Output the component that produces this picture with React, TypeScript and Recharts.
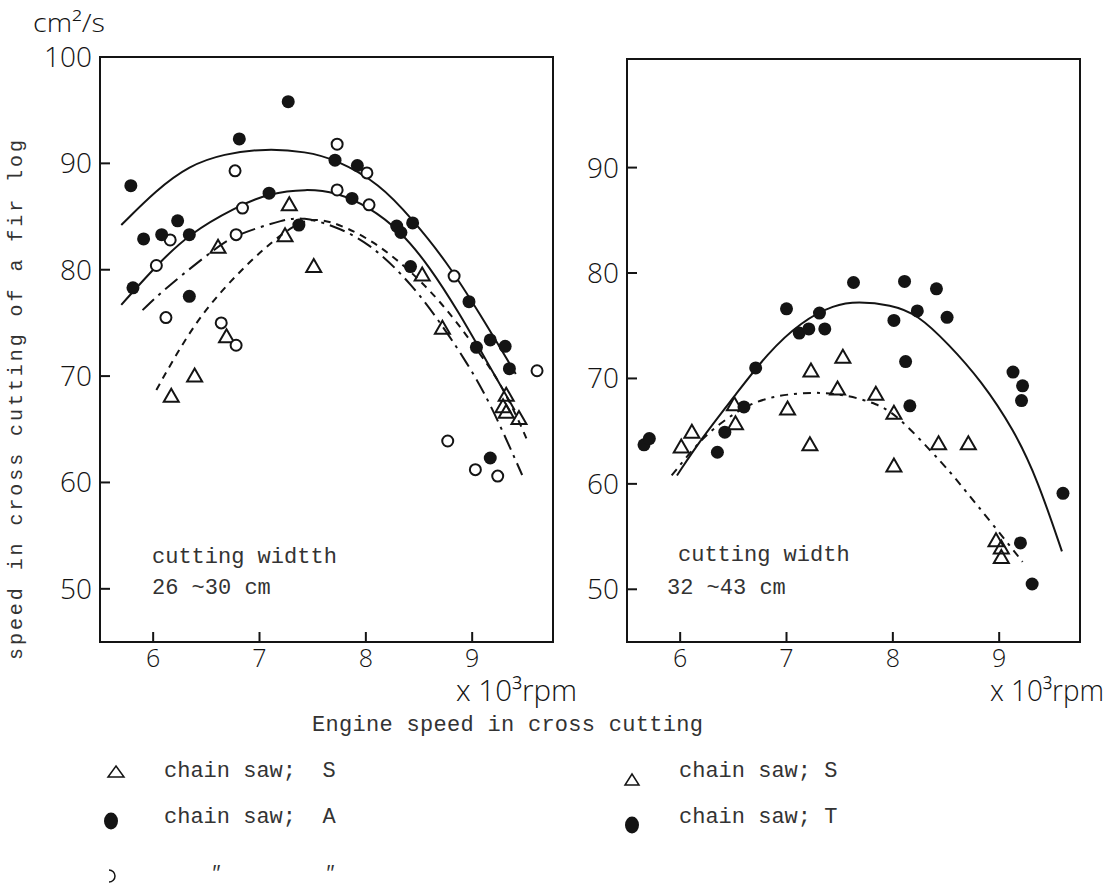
import React from 'react';
import { ComposedChart, Scatter, Line, XAxis, YAxis, ReferenceArea } from 'recharts';

// ---------- axes ----------
const xTicks = [6, 7, 8, 9];
const xDomain: [number, number] = [5.5, 9.76];
const leftYTicks = [50, 60, 70, 80, 90, 100];
const rightYTicks = [50, 60, 70, 80, 90];
const leftYDomain: [number, number] = [45, 100];
const rightYDomain: [number, number] = [45, 100.3];

// ---------- left panel: cutting width 26~30 cm ----------
const leftSawA: [number, number][] = [
  [5.79, 87.9], [5.91, 82.9], [6.08, 83.3], [6.23, 84.6], [6.34, 83.3], [5.81, 78.3],
  [6.34, 77.5], [6.81, 92.3], [7.09, 87.2], [7.27, 95.8], [7.37, 84.2], [7.71, 90.3],
  [7.92, 89.8], [7.87, 86.7], [8.29, 84.1], [8.33, 83.5], [8.44, 84.4], [8.42, 80.3],
  [8.97, 77.0], [9.17, 73.4], [9.31, 72.8], [9.04, 72.7], [9.35, 70.7], [9.17, 62.3],
];
const leftSawAOpen: [number, number][] = [
  [6.16, 82.8], [6.03, 80.4], [6.12, 75.5], [6.64, 75.0], [6.78, 72.9], [6.77, 89.3],
  [6.84, 85.8], [6.78, 83.3], [7.73, 91.8], [7.73, 87.5], [8.01, 89.1], [8.03, 86.1],
  [8.83, 79.4], [9.61, 70.5], [8.77, 63.9], [9.03, 61.2], [9.24, 60.6],
];
const leftSawS: [number, number][] = [
  [7.28, 86.2], [7.24, 83.3], [6.61, 82.2], [7.51, 80.4], [6.69, 73.8], [6.39, 70.1],
  [6.17, 68.2], [8.53, 79.6], [8.72, 74.6], [9.32, 68.3], [9.29, 67.2], [9.32, 66.7],
  [9.44, 66.1],
];
const leftCurveUpper: [number, number][] = [
  [5.70, 84.2], [6.03, 87.5], [6.34, 89.8], [6.66, 90.9], [7.06, 91.4], [7.44, 91.1],
  [7.71, 90.4], [8.13, 88.1], [8.44, 84.7], [8.75, 80.9], [9.07, 75.9], [9.41, 70.2],
];
const leftCurveLower: [number, number][] = [
  [5.70, 76.7], [6.03, 80.4], [6.34, 83.4], [6.78, 85.9], [7.09, 87.2], [7.44, 87.6],
  [7.72, 87.3], [8.03, 85.9], [8.32, 83.7], [8.60, 80.3], [8.88, 75.9], [9.13, 71.5],
  [9.40, 66.8],
];
const leftCurveDashDot: [number, number][] = [
  [5.90, 76.2], [6.13, 78.4], [6.61, 82.2], [6.78, 83.3], [7.25, 84.8], [7.41, 84.9],
  [7.66, 84.3], [8.03, 82.6], [8.44, 78.6], [8.75, 74.3], [8.94, 71.4], [9.16, 67.7],
  [9.47, 60.7],
];
const leftCurveDash: [number, number][] = [
  [6.03, 68.7], [6.22, 72.1], [6.44, 75.6], [6.72, 78.9], [7.06, 82.2], [7.35, 84.4],
  [7.55, 84.9], [7.82, 84.0], [8.13, 82.3], [8.50, 79.2], [8.82, 75.6], [9.07, 72.1],
  [9.24, 69.8], [9.44, 65.8], [9.52, 63.9],
];

// ---------- right panel: cutting width 32~43 cm ----------
const rightSawT: [number, number][] = [
  [5.66, 63.7], [5.71, 64.3], [6.35, 63.0], [6.42, 64.9], [6.60, 67.3], [6.71, 71.0],
  [7.00, 76.6], [7.12, 74.3], [7.21, 74.7], [7.31, 76.2], [7.36, 74.7], [7.63, 79.1],
  [8.01, 75.5], [8.11, 79.2], [8.12, 71.6], [8.16, 67.4], [8.23, 76.4], [8.41, 78.5],
  [8.51, 75.8], [9.13, 70.6], [9.22, 69.3], [9.21, 67.9], [9.60, 59.1], [9.20, 54.4],
  [9.31, 50.5],
];
const rightSawS: [number, number][] = [
  [6.01, 63.6], [6.11, 65.0], [6.51, 67.6], [6.52, 65.8], [7.01, 67.2], [7.22, 63.8],
  [7.23, 70.8], [7.48, 69.1], [7.53, 72.1], [7.84, 68.6], [8.01, 66.8], [8.01, 61.8],
  [8.43, 63.9], [8.71, 63.9], [8.97, 54.7], [9.02, 54.0], [9.02, 53.1],
];
const rightCurveT: [number, number][] = [
  [5.97, 60.8], [6.20, 64.3], [6.51, 68.3], [6.82, 72.4], [7.14, 75.4], [7.45, 77.0],
  [7.67, 77.3], [7.98, 77.0], [8.23, 76.1], [8.52, 73.3], [8.83, 69.8], [9.14, 65.1],
  [9.36, 60.4], [9.59, 53.6],
];
const rightCurveS: [number, number][] = [
  [5.92, 60.8], [6.20, 64.3], [6.40, 65.9], [6.60, 67.3], [6.80, 68.1], [7.01, 68.5],
  [7.26, 68.7], [7.54, 68.5], [7.86, 67.6], [8.05, 66.4], [8.36, 63.1], [8.55, 61.0],
  [8.67, 59.5], [8.92, 56.4], [9.22, 52.6],
];

// ---------- texts ----------
const unitY = 'cm²/s';
const unitX = 'x 10³rpm';
const yTitle = 'speed in cross cutting of a fir log';
const xTitle = 'Engine speed in cross cutting';
const leftNote = ['cutting widtth', '26 ~30 cm'];
const rightNote = ['cutting width', '32 ~43 cm'];
const legendLeft = ['chain saw;  S', 'chain saw;  A'];
const legendRight = ['chain saw; S', 'chain saw; T'];

const INK = '#141414';
const SANS = '"Open Sans", "DejaVu Sans", sans-serif';
const MONO = '"Liberation Mono", "DejaVu Sans Mono", monospace';

const toRows = (pts: [number, number][]) => pts.map(([x, y]) => ({ x, y }));

const FilledDot = (p: any) =>
  p.cx == null ? null : <circle cx={p.cx} cy={p.cy} r={6.5} fill={INK} />;
const OpenDot = (p: any) =>
  p.cx == null ? null : <circle cx={p.cx} cy={p.cy} r={5.5} fill="#fff" stroke={INK} strokeWidth={2} />;
const TriDot = (p: any) =>
  p.cx == null ? null : (
    <path
      d={`M${p.cx},${p.cy - 6.5} L${p.cx + 7.5},${p.cy + 6.5} L${p.cx - 7.5},${p.cy + 6.5} Z`}
      fill="none"
      stroke={INK}
      strokeWidth={2}
    />
  );

type CurveSpec = { pts: [number, number][]; dash?: string };
type DotSpec = { pts: [number, number][]; shape: any };

function Panel(props: {
  left: number;
  width: number;
  marginLeft: number;
  marginRight: number;
  marginTop: number;
  yDomain: [number, number];
  yTicks: number[];
  curves: CurveSpec[];
  dots: DotSpec[];
}) {
  const { left, width, marginLeft, marginRight, marginTop, yDomain, yTicks, curves, dots } = props;
  return (
    <div style={{ position: 'absolute', left, top: 0 }}>
      <ComposedChart
        width={width}
        height={700}
        margin={{ top: marginTop, right: marginRight, bottom: 28, left: marginLeft }}
      >
        <XAxis
          dataKey="x"
          type="number"
          domain={xDomain}
          ticks={xTicks}
          allowDataOverflow
          height={30}
          tickSize={-10}
          tickMargin={17}
          axisLine={{ stroke: INK, strokeWidth: 2 }}
          tickLine={{ stroke: INK, strokeWidth: 2 }}
          tick={{ fill: INK, fontSize: 25, fontFamily: SANS, fontWeight: 300 }}
        />
        <YAxis
          dataKey="y"
          type="number"
          domain={yDomain}
          ticks={yTicks}
          allowDataOverflow
          width={60}
          tickSize={-10}
          tickMargin={18}
          axisLine={{ stroke: INK, strokeWidth: 2 }}
          tickLine={{ stroke: INK, strokeWidth: 2 }}
          tick={{ fill: INK, fontSize: 28, fontFamily: SANS, fontWeight: 300 }}
        />
        <ReferenceArea
          x1={xDomain[0]}
          x2={xDomain[1]}
          y1={yDomain[0]}
          y2={yDomain[1]}
          fill="none"
          fillOpacity={0}
          stroke={INK}
          strokeWidth={2}
          ifOverflow="visible"
        />
        {curves.map((c, i) => (
          <Line
            key={'c' + i}
            data={toRows(c.pts)}
            dataKey="y"
            type="basis"
            stroke={INK}
            strokeWidth={2}
            strokeDasharray={c.dash}
            dot={false}
            activeDot={false}
            isAnimationActive={false}
          />
        ))}
        {dots.map((d, i) => (
          <Scatter
            key={'d' + i}
            data={toRows(d.pts)}
            dataKey="y"
            shape={d.shape}
            isAnimationActive={false}
          />
        ))}
      </ComposedChart>
    </div>
  );
}

export default function App() {
  return (
    <div style={{ position: 'absolute', left: 0, top: 0, width: 1118, height: 884, background: '#fff', overflow: 'hidden' }}>
      <Panel
        left={0}
        width={600}
        marginLeft={40}
        marginRight={47}
        marginTop={57}
        yDomain={leftYDomain}
        yTicks={leftYTicks}
        curves={[
          { pts: leftCurveUpper },
          { pts: leftCurveLower },
          { pts: leftCurveDashDot, dash: '16 6 3 6' },
          { pts: leftCurveDash, dash: '7 6' },
        ]}
        dots={[
          { pts: leftSawS, shape: TriDot },
          { pts: leftSawAOpen, shape: OpenDot },
          { pts: leftSawA, shape: FilledDot },
        ]}
      />
      <Panel
        left={527}
        width={591}
        marginLeft={40}
        marginRight={38}
        marginTop={59}
        yDomain={rightYDomain}
        yTicks={rightYTicks}
        curves={[{ pts: rightCurveT }, { pts: rightCurveS, dash: '8 6 3 6' }]}
        dots={[
          { pts: rightSawS, shape: TriDot },
          { pts: rightSawT, shape: FilledDot },
        ]}
      />
      <svg width={1118} height={884} style={{ position: 'absolute', left: 0, top: 0, pointerEvents: 'none' }}>
        <text x={33} y={32} fontFamily={SANS} fontWeight={300} fontSize={26} fill={INK} textLength={72} lengthAdjust="spacingAndGlyphs">{unitY}</text>
        <text x={456} y={701} fontFamily={SANS} fontWeight={300} fontSize={29} fill={INK} textLength={121} lengthAdjust="spacingAndGlyphs">{unitX}</text>
        <text x={990} y={701} fontFamily={SANS} fontWeight={300} fontSize={29} fill={INK} textLength={114} lengthAdjust="spacingAndGlyphs">{unitX}</text>
        <text
          x={22}
          y={400}
          transform="rotate(-90 22 400)"
          textAnchor="middle"
          fontFamily={MONO}
          fontSize={20}
          fill="#333"
          textLength={520}
          lengthAdjust="spacing"
        >
          {yTitle}
        </text>
        <text x={312} y={731} fontFamily={MONO} fontSize={22} fill="#333" textLength={391} lengthAdjust="spacing">
          {xTitle}
        </text>
        <text x={152} y={563} fontFamily={MONO} fontSize={22} fill="#333">{leftNote[0]}</text>
        <text x={152} y={594} fontFamily={MONO} fontSize={22} fill="#333">{leftNote[1]}</text>
        <text x={678} y={561} fontFamily={MONO} fontSize={22} fill="#333">{rightNote[0]}</text>
        <text x={667} y={594} fontFamily={MONO} fontSize={22} fill="#333">{rightNote[1]}</text>

        <path d="M116,766 L124,777 L108,777 Z" fill="none" stroke={INK} strokeWidth={1.5} />
        <text x={164} y={777} fontFamily={MONO} fontSize={22} fill="#333" style={{ whiteSpace: 'pre' }}>{legendLeft[0]}</text>
        <ellipse cx={111} cy={821} rx={7} ry={8.5} fill={INK} />
        <text x={164} y={823} fontFamily={MONO} fontSize={22} fill="#333" style={{ whiteSpace: 'pre' }}>{legendLeft[1]}</text>
        <path d="M109,870 A6,6 0 1,1 109,882" fill="none" stroke={INK} strokeWidth={1.5} />
        <text x={210} y={878} fontFamily={MONO} fontStyle="italic" fontSize={18} fill="#333">″</text>
        <text x={324} y={878} fontFamily={MONO} fontStyle="italic" fontSize={18} fill="#333">″</text>

        <path d="M632,774 L639,785 L625,785 Z" fill="none" stroke={INK} strokeWidth={1.5} />
        <text x={679} y={777} fontFamily={MONO} fontSize={22} fill="#333" style={{ whiteSpace: 'pre' }}>{legendRight[0]}</text>
        <ellipse cx={632} cy={825} rx={7} ry={8.5} fill={INK} />
        <text x={679} y={823} fontFamily={MONO} fontSize={22} fill="#333" style={{ whiteSpace: 'pre' }}>{legendRight[1]}</text>
      </svg>
    </div>
  );
}
